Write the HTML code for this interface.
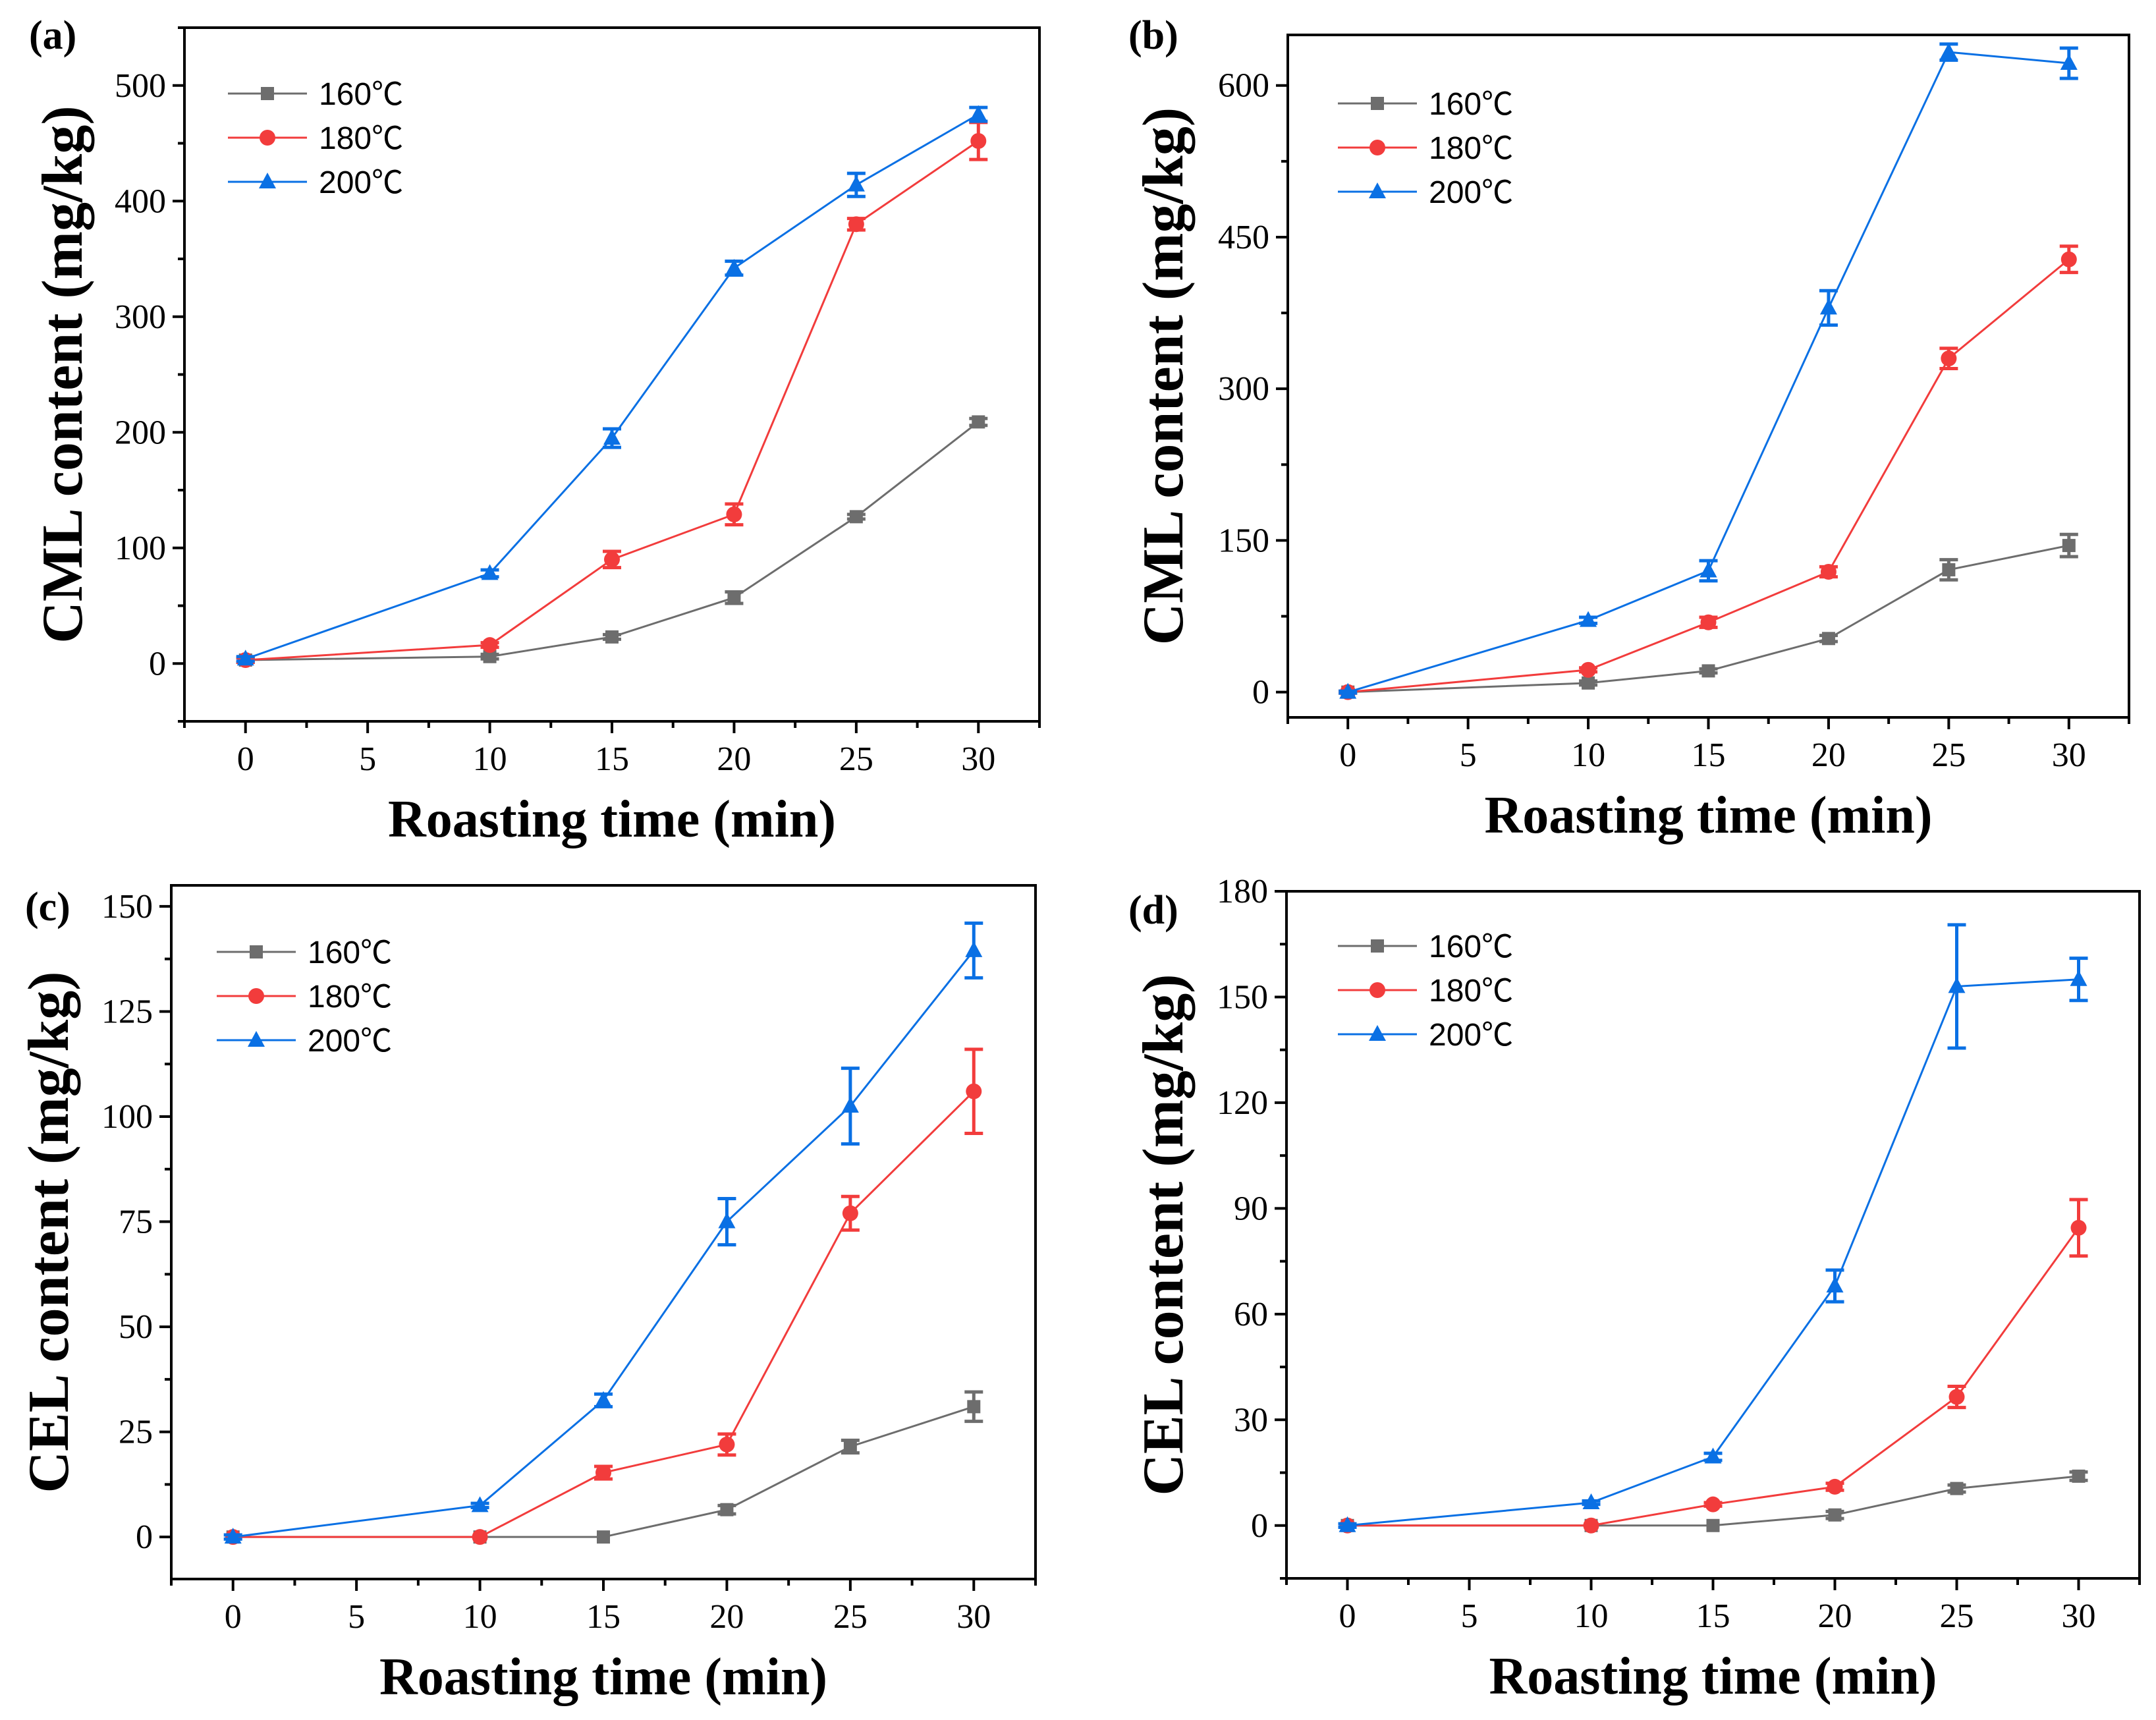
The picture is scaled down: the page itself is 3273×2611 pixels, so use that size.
<!DOCTYPE html>
<html><head><meta charset="utf-8"><style>
html,body{margin:0;padding:0;background:#fff}
svg{display:block}
</style></head><body>
<svg id="fig" width="3273" height="2611" viewBox="0 0 3273 2611" xmlns="http://www.w3.org/2000/svg"></svg>
<script>
const xTimes=[0,10,15,20,25,30];
const xTickLabels=[0,5,10,15,20,25,30];
const seriesNames=['160℃','180℃','200℃'];
// panel a
const a160=[3,6,23,57,127,209], a160e=[2,2,2,5,2,3];
const a180=[3,16,90,129,380,452], a180e=[2,2,7,9,5,16];
const a200=[4,78,195,342,414,475], a200e=[2,3,8,6,10,6];
const aYTicks=[0,100,200,300,400,500];
// panel b
const b160=[0,9,21,53,121,145], b160e=[1,2,2,3,10,11];
const b180=[0,22,69,119,330,428], b180e=[1,2,5,5,10,13];
const b200=[0,71,120,380,633,622], b200e=[1,3,10,17,8,15];
const bYTicks=[0,150,300,450,600];
// panel c
const c160=[0,0,0,6.5,21.5,31], c160e=[0,0,0,1,1.5,3.5];
const c180=[0,0,15.3,22,77,106], c180e=[0,0,1.5,2.5,4,10];
const c200=[0,7.5,32.5,75,102.5,139.5], c200e=[0.5,0.5,1.5,5.5,9,6.5];
const cYTicks=[0,25,50,75,100,125,150];
// panel d
const d160=[0,0,0,3,10.5,14], d160e=[0,0,0,1,1,1.2];
const d180=[0,0,6,11,36.5,84.5], d180e=[0,0,0.5,1,3,8];
const d200=[0,6.5,19.5,68,153,155], d200e=[0.5,0.5,1,4.5,17.5,6];
const dYTicks=[0,30,60,90,120,150,180];

const NS='http://www.w3.org/2000/svg';
const svg=document.getElementById('fig');
const colors=['#6d6d6d','#f23c3c','#0a70e4'];
function mk(tag,attrs,parent){const e=document.createElementNS(NS,tag);for(const k in attrs)e.setAttribute(k,attrs[k]);(parent||svg).appendChild(e);return e;}
function marker(g,shape,x,y,c){
  let m;
  if(shape===0)m=mk('rect',{x:x-10,y:y-10,width:20,height:20,fill:c},g);
  else if(shape===1)m=mk('circle',{cx:x,cy:y,r:12,fill:c},g);
  else m=mk('polygon',{points:`${x},${y-14} ${x+13},${y+10} ${x-13},${y+10}`,fill:c},g);
  return m;
}
function panel(p){
  const g=mk('g',{});
  
  
  const X=v=>p.L+(v-(-2.5))/35*(p.R-p.L);
  const Y=v=>p.B-(v-p.ymin)/(p.ymax-p.ymin)*(p.B-p.T);
  const fr=mk('rect',{x:p.L,y:p.T,width:p.R-p.L,height:p.B-p.T,fill:'none',stroke:'#000','stroke-width':4},g);
  
  
  for(let i=0;i<xTickLabels.length;i++){
    const v=xTickLabels[i];
    mk('line',{x1:X(v),x2:X(v),y1:p.B,y2:p.B+18,stroke:'#000','stroke-width':4},g);
    mk('line',{x1:X(v+2.5),x2:X(v+2.5),y1:p.B,y2:p.B+10,stroke:'#000','stroke-width':4},g);
    const t=mk('text',{x:X(v),y:p.B+74,'text-anchor':'middle','font-family':'Liberation Serif, serif','font-size':52},g);
    t.textContent=v;
    
    
  }
  mk('line',{x1:X(-2.5),x2:X(-2.5),y1:p.B,y2:p.B+10,stroke:'#000','stroke-width':4},g);
  const step=p.yt[1]-p.yt[0];
  for(let i=0;i<p.yt.length;i++){
    const v=p.yt[i];
    mk('line',{x1:p.L,x2:p.L-18,y1:Y(v),y2:Y(v),stroke:'#000','stroke-width':4},g);
    if(v+step/2<=p.ymax)mk('line',{x1:p.L,x2:p.L-10,y1:Y(v+step/2),y2:Y(v+step/2),stroke:'#000','stroke-width':4},g);
    if(i===0&&v-step/2>=p.ymin)mk('line',{x1:p.L,x2:p.L-10,y1:Y(v-step/2),y2:Y(v-step/2),stroke:'#000','stroke-width':4},g);
    const t=mk('text',{x:p.L-28,y:Y(v)+17,'text-anchor':'end','font-family':'Liberation Serif, serif','font-size':52},g);
    t.textContent=v;
    
    
  }
  for(let s=0;s<3;s++){
    const vals=p.data[s],errs=p.err[s],c=colors[s];
    const sg=mk('g',{},g);
    
    
    mk('polyline',{points:xTimes.map((x,i)=>X(x)+','+Y(vals[i])).join(' '),fill:'none',stroke:c,'stroke-width':3},sg);
    for(let i=0;i<xTimes.length;i++){
      const x=X(xTimes[i]),y=Y(vals[i]);
      if(errs[i]>0){
        const y1=Y(vals[i]+errs[i]),y2=Y(vals[i]-errs[i]);
        const eb=mk('path',{d:`M${x},${y1}V${y2}M${x-14},${y1}H${x+14}M${x-14},${y2}H${x+14}`,stroke:c,'stroke-width':5,fill:'none'},sg);
        
        
      }
      const m=marker(sg,s,x,y,c);
      
      
    }
  }
  const lg=mk('g',{},g);
  
  
  for(let s=0;s<3;s++){
    const y=p.legY+s*67,c=colors[s];
    const e=mk('g',{},lg);
    
    
    mk('line',{x1:p.legX,x2:p.legX+120,y1:y,y2:y,stroke:c,'stroke-width':3},e);
    marker(e,s,p.legX+60,y,c);
    const t=mk('text',{x:p.legX+138,y:y+17,'font-family':'Liberation Sans, Noto Sans CJK SC, sans-serif','font-size':48},e);
    t.textContent=seriesNames[s];
  }
  const xt=mk('text',{x:(p.L+p.R)/2,y:p.B+175,'text-anchor':'middle','font-family':'Liberation Serif, serif','font-weight':'bold','font-size':80},g);
  xt.textContent='Roasting time (min)';
  
  
  const yc=(p.T+p.B)/2;
  const yt=mk('text',{x:p.ytx,y:yc,'text-anchor':'middle','font-family':'Liberation Serif, serif','font-weight':'bold','font-size':88,transform:`rotate(-90 ${p.ytx} ${yc})`},g);
  yt.textContent=p.ytitle;
  
  
  const pl=mk('text',{x:p.labX,y:p.labY,'font-family':'Liberation Serif, serif','font-weight':'bold','font-size':62},g);
  pl.textContent='('+p.id+')';
  
  
}
panel({id:'a',L:280,R:1578,T:42,B:1095,ymin:-50,ymax:550,yt:aYTicks,data:[a160,a180,a200],err:[a160e,a180e,a200e],legX:346,legY:142,ytx:124,ytitle:'CML content (mg/kg)',labX:44,labY:74});
panel({id:'b',L:1955,R:3232,T:53,B:1089,ymin:-25,ymax:650,yt:bYTicks,data:[b160,b180,b200],err:[b160e,b180e,b200e],legX:2031,legY:157,ytx:1795,ytitle:'CML content (mg/kg)',labX:1713,labY:74});
panel({id:'c',L:260,R:1572,T:1344,B:2397,ymin:-10,ymax:155,yt:cYTicks,data:[c160,c180,c200],err:[c160e,c180e,c200e],legX:329,legY:1445,ytx:103,ytitle:'CEL content (mg/kg)',labX:38,labY:1397});
panel({id:'d',L:1953,R:3248,T:1353,B:2396,ymin:-15,ymax:180,yt:dYTicks,data:[d160,d180,d200],err:[d160e,d180e,d200e],legX:2031,legY:1436,ytx:1795,ytitle:'CEL content (mg/kg)',labX:1713,labY:1402});
</script>
</body></html>
